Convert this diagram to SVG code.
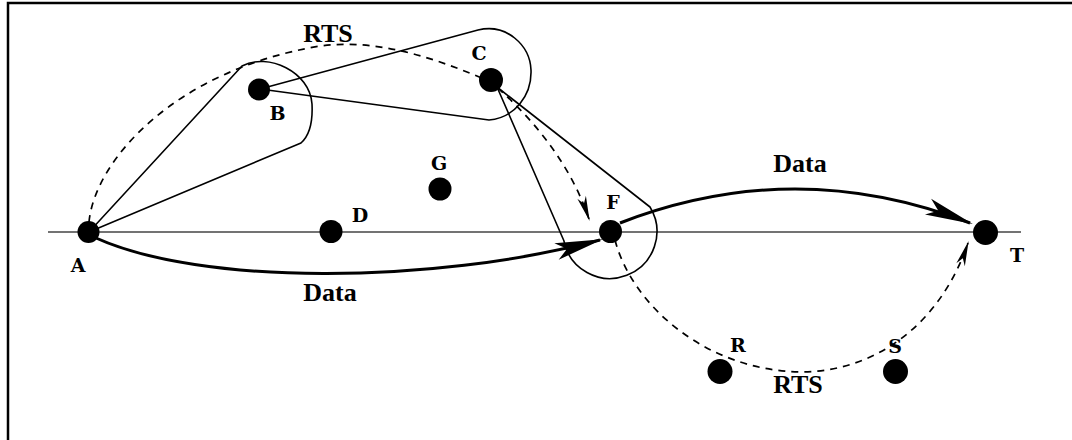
<svg xmlns="http://www.w3.org/2000/svg" width="1072" height="440" viewBox="0 0 1072 440">
  <style>
    .frame { fill: none; stroke: #000; stroke-width: 2.5; }
    .axis { stroke: #444; stroke-width: 1.6; fill: none; }
    .range { fill: none; stroke: #000; stroke-width: 1.6; stroke-linejoin: round; }
    .rts { fill: none; stroke: #000; stroke-width: 1.7; stroke-dasharray: 7 6; }
    .data { fill: none; stroke: #000; stroke-width: 3; }
    .dot { fill: #000; }
    .lbl { font-family: "DejaVu Serif", "Liberation Serif", serif; font-weight: bold; font-size: 19px; text-anchor: middle; fill: #000; }
    .big { font-family: "Liberation Serif", "Times New Roman", serif; font-weight: bold; font-size: 26px; text-anchor: middle; fill: #000; }
  </style>
  <defs>
    <marker id="bigHead" markerUnits="userSpaceOnUse" orient="auto" viewBox="-50 -12 54 24" markerWidth="54" markerHeight="24" refX="0" refY="0">
      <path d="M3,0 L-45,-8.5 L-34,0 L-45,8.5 Z" fill="#000"/>
    </marker>
    <marker id="smallHead" markerUnits="userSpaceOnUse" orient="auto" viewBox="-28 -8 32 16" markerWidth="32" markerHeight="16" refX="0" refY="0">
      <path d="M2,0 L-23,-4.5 L-16,0 L-23,4.5 Z" fill="#000"/>
    </marker>
  </defs>

  <rect width="1072" height="440" fill="#fff"/>
  <!-- frame: left and top edges -->
  <path class="frame" d="M8,440 L8,3 L1072,3"/>

  <!-- horizontal baseline through A, D, F, T -->
  <line class="axis" x1="48" y1="232" x2="1021" y2="232"/>

  <!-- transmission ranges -->
  <g id="ranges">
    <path id="range-AB" class="range" d="M89,232 L242,66 C268,52 310,72 312,104 C313,124 309,136 301,143 Z"/>
    <path id="range-BC" class="range" d="M260,89 L478,30 C506,23 530,45 531,70 C532,96 514,118 489,120 Z"/>
    <path id="range-CF" class="range" d="M497,87 L650,207 A47,47 0 1 1 563.7,240.2 Z"/>
  </g>

  <!-- connectors -->
  <g id="connectors">
    <path id="rts-A-C-F" class="rts" d="M89,222 C95,160 175,70 320,46 C380,38 440,60 491,82 Q564,145 589,219" marker-end="url(#smallHead)"/>
    <path id="rts-F-T" class="rts" d="M615,240 C632,305 705,370 800,372 C875,372 940,325 968,243" marker-end="url(#smallHead)"/>
    <path id="data-A-F" class="data" d="M96,238 C200,285 430,285 600,240" marker-end="url(#bigHead)"/>
    <path id="data-F-T" class="data" d="M620,223 Q795,155 970,223" marker-end="url(#bigHead)"/>
  </g>

  <!-- edge labels -->
  <g id="edge-labels">
    <text class="big" x="328" y="42">RTS</text>
    <text class="big" x="800" y="172">Data</text>
    <text class="big" x="330" y="301">Data</text>
    <text class="big" x="798" y="393">RTS</text>
  </g>

  <!-- nodes -->
  <g id="node-A"><circle class="dot" cx="88.5" cy="232" r="11"/><text class="lbl" x="78" y="272">A</text></g>
  <g id="node-B"><circle class="dot" cx="259" cy="89.5" r="11"/><text class="lbl" x="277.5" y="120">B</text></g>
  <g id="node-C"><circle class="dot" cx="491" cy="80" r="12"/><text class="lbl" x="479" y="60">C</text></g>
  <g id="node-D"><circle class="dot" cx="331" cy="231.5" r="11.5"/><text class="lbl" x="360" y="222">D</text></g>
  <g id="node-G"><circle class="dot" cx="440" cy="189" r="11.5"/><text class="lbl" x="439" y="170">G</text></g>
  <g id="node-F"><circle class="dot" cx="610.5" cy="231.5" r="11.5"/><text class="lbl" x="613" y="209">F</text></g>
  <g id="node-T"><circle class="dot" cx="985.5" cy="232.5" r="12.5"/><text class="lbl" x="1017" y="262">T</text></g>
  <g id="node-R"><circle class="dot" cx="720" cy="371.5" r="12.5"/><text class="lbl" x="738" y="352">R</text></g>
  <g id="node-S"><circle class="dot" cx="895.5" cy="371.5" r="12.5"/><text class="lbl" x="895" y="353">S</text></g>
</svg>
